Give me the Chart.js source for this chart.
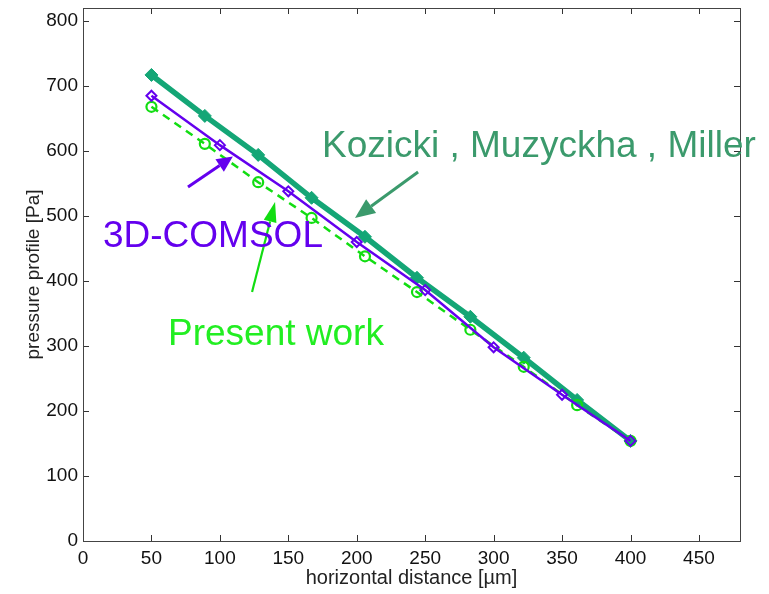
<!DOCTYPE html>
<html>
<head>
<meta charset="utf-8">
<script src="https://cdn.jsdelivr.net/npm/chart.js@4.4.1/dist/chart.umd.min.js"></script>
<style>
  html, body { margin: 0; padding: 0; background: #ffffff; }
  #wrap { width: 769px; height: 594px; }
</style>
</head>
<body>
<div id="wrap"><canvas id="c" width="769" height="594"></canvas></div>
<script>
// ---- data ----
const kozickiX = [50, 89, 128, 167, 206, 244, 283, 322, 361, 400];
const kozickiY = [717, 654, 594, 528, 468, 405, 345, 282, 217, 154];

const comsolX = [50, 100, 150, 200, 250, 300, 350, 400];
const comsolY = [685, 609, 538, 460, 386, 298, 225, 154];

const presentX = [50, 89, 128, 167, 206, 244, 283, 322, 361, 400];
const presentY = [668, 611, 552, 497, 438, 383, 325, 268, 209, 154];

const xTickValues = [0, 50, 100, 150, 200, 250, 300, 350, 400, 450];
const yTickValues = [0, 100, 200, 300, 400, 500, 600, 700, 800];

const labelKozicki = "Kozicki , Muzyckha , Miller";
const labelComsol = "3D-COMSOL";
const labelPresent = "Present work";
const xTitle = "horizontal distance [\u00b5m]";
const yTitle = "pressure profile [Pa]";

// ---- helpers ----
function pts(xs, ys) { return xs.map((x, i) => ({ x: x, y: ys[i] })); }

const FONT = "'Liberation Sans', Arial, Helvetica, sans-serif";
const cKoz = '#14a676';
const cKozText = '#3b9a6c';
const cCom = '#6400ee';
const cPre = '#12dd12';
const cPreText = '#22ee22';

// annotation plugin: box, inward ticks, arrows, texts (placed through the scales)
const decor = {
  id: 'decor',
  afterDatasetsDraw(chart) {
    const ctx = chart.ctx;
    const a = chart.chartArea;
    const xs = chart.scales.x, ys = chart.scales.y;
    ctx.save();
    // inward ticks
    ctx.strokeStyle = '#333';
    ctx.lineWidth = 1;
    const tl = 6;
    xTickValues.forEach(v => {
      const px = Math.round(xs.getPixelForValue(v)) + 0.5;
      ctx.beginPath();
      ctx.moveTo(px, a.bottom); ctx.lineTo(px, a.bottom - tl);
      ctx.moveTo(px, a.top); ctx.lineTo(px, a.top + tl);
      ctx.stroke();
    });
    yTickValues.forEach(v => {
      const py = Math.round(ys.getPixelForValue(v)) + 0.5;
      ctx.beginPath();
      ctx.moveTo(a.left, py); ctx.lineTo(a.left + tl, py);
      ctx.moveTo(a.right, py); ctx.lineTo(a.right - tl, py);
      ctx.stroke();
    });
    // box
    ctx.strokeStyle = '#444';
    ctx.strokeRect(Math.round(a.left) + 0.5, Math.round(a.top) + 0.5,
                   Math.round(a.right - a.left), Math.round(a.bottom - a.top));

    function arrow(x0, y0, x1, y1, color, lw, hl, hw) {
      const p0x = xs.getPixelForValue(x0), p0y = ys.getPixelForValue(y0);
      const p1x = xs.getPixelForValue(x1), p1y = ys.getPixelForValue(y1);
      const ang = Math.atan2(p1y - p0y, p1x - p0x);
      const bx = p1x - hl * Math.cos(ang), by = p1y - hl * Math.sin(ang);
      ctx.strokeStyle = color; ctx.fillStyle = color; ctx.lineWidth = lw;
      ctx.beginPath(); ctx.moveTo(p0x, p0y); ctx.lineTo(bx, by); ctx.stroke();
      ctx.beginPath();
      ctx.moveTo(p1x, p1y);
      ctx.lineTo(bx + hw / 2 * Math.sin(ang), by - hw / 2 * Math.cos(ang));
      ctx.lineTo(bx - hw / 2 * Math.sin(ang), by + hw / 2 * Math.cos(ang));
      ctx.closePath(); ctx.fill();
    }
    arrow(76.7, 544.6, 109.5, 591.5, cCom, 3, 16, 15);
    arrow(123.5, 383, 140.3, 521.5, cPre, 2.2, 20, 13);
    arrow(244.8, 567.7, 198.7, 496.9, cKozText, 3, 20, 17);

    function text(s, x, y, color) {
      ctx.fillStyle = color;
      ctx.font = '37px ' + FONT;
      ctx.textBaseline = 'alphabetic';
      ctx.textAlign = 'left';
      ctx.fillText(s, xs.getPixelForValue(x), ys.getPixelForValue(y));
    }
    text(labelKozicki, 174.6, 590.5, cKozText);
    text(labelComsol, 14.6, 452.3, cCom);
    text(labelPresent, 62.1, 301.5, cPreText);
    ctx.restore();
  }
};

new Chart(document.getElementById('c'), {
  type: 'line',
  data: {
    datasets: [
      {
        label: labelKozicki,
        data: pts(kozickiX, kozickiY),
        borderColor: cKoz,
        backgroundColor: cKoz,
        borderWidth: 5.5,
        pointStyle: 'rectRot',
        pointRadius: 6.5,
        pointBackgroundColor: cKoz,
        pointBorderColor: cKoz,
        pointBorderWidth: 1,
        order: 3
      },
      {
        label: labelPresent,
        data: pts(presentX, presentY),
        borderColor: cPre,
        backgroundColor: 'rgba(0,0,0,0)',
        borderWidth: 2.5,
        borderDash: [8, 6],
        pointStyle: 'circle',
        pointRadius: 5,
        pointBackgroundColor: 'rgba(255,255,255,0)',
        pointBorderColor: cPre,
        pointBorderWidth: 2.2,
        order: 2
      },
      {
        label: labelComsol,
        data: pts(comsolX, comsolY),
        borderColor: cCom,
        backgroundColor: 'rgba(0,0,0,0)',
        borderWidth: 2.5,
        pointStyle: 'rectRot',
        pointRadius: 5,
        pointBackgroundColor: 'rgba(255,255,255,0)',
        pointBorderColor: cCom,
        pointBorderWidth: 2,
        order: 1
      }
    ]
  },
  options: {
    responsive: false,
    animation: false,
    devicePixelRatio: 1,
    layout: { padding: { left: 0, right: 29, top: 8, bottom: 0 } },
    plugins: { legend: { display: false }, tooltip: { enabled: false } },
    elements: { line: { tension: 0 } },
    scales: {
      x: {
        type: 'linear',
        min: 0, max: 480,
        afterBuildTicks: s => { s.ticks = xTickValues.map(v => ({ value: v })); },
        afterFit: s => { s.height = 53; s.paddingLeft = 0; s.paddingRight = 0; },
        grid: { display: false, drawTicks: false },
        border: { display: false },
        ticks: { padding: 6, color: '#111', font: { family: FONT, size: 19 }, maxRotation: 0, autoSkip: false },
        title: { display: true, text: xTitle, color: '#222', font: { family: FONT, size: 20 }, padding: { top: 0, bottom: 4 } }
      },
      y: {
        type: 'linear',
        min: 0, max: 820,
        afterBuildTicks: s => { s.ticks = yTickValues.map(v => ({ value: v })); },
        afterFit: s => { s.width = 83; s.paddingTop = 0; s.paddingBottom = 0; },
        grid: { display: false, drawTicks: false },
        border: { display: false },
        ticks: { padding: 5, color: '#111', font: { family: FONT, size: 19 }, autoSkip: false },
        title: { display: true, text: yTitle, color: '#222', font: { family: FONT, size: 19 }, padding: { top: 22, bottom: 0 } }
      }
    }
  },
  plugins: [decor]
});
</script>
</body>
</html>
